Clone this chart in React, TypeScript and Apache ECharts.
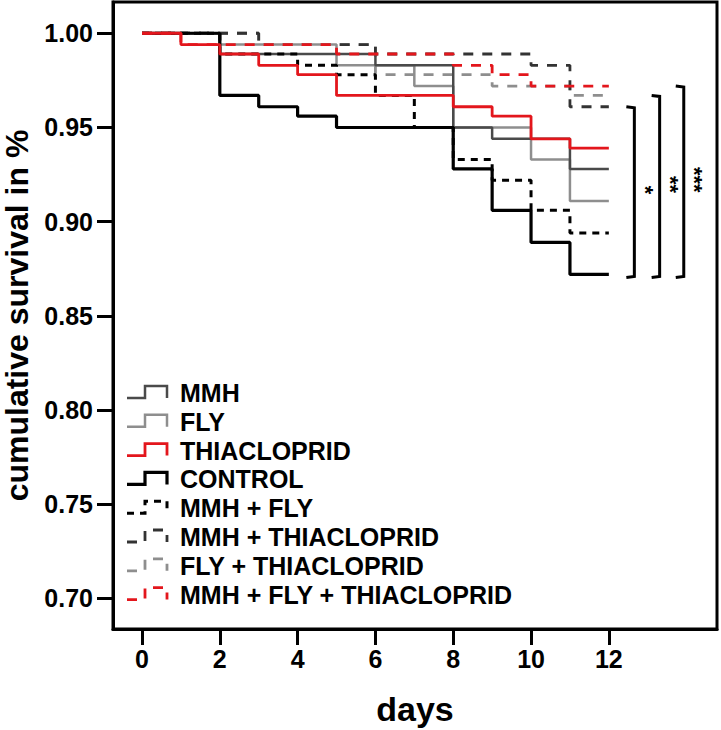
import React, { useEffect, useRef } from "react";
import * as echarts from "echarts";

// ---- axis ticks ----
const xTicks = [0, 2, 4, 6, 8, 10, 12];
const yTicks = [0.7, 0.75, 0.8, 0.85, 0.9, 0.95, 1.0];

// ---- Kaplan-Meier step data (day of event, cumulative survival after it) ----
const mmhDays = [0, 2, 6, 8, 9, 11, 12];
const mmhSurv = [1, 0.989, 0.983, 0.95, 0.944, 0.928, 0.928];

const flyDays = [0, 2, 5, 7, 8, 10, 11, 12];
const flySurv = [1, 0.994, 0.983, 0.972, 0.95, 0.933, 0.911, 0.911];

const thiaDays = [0, 1, 2, 3, 4, 5, 8, 9, 10, 11, 12];
const thiaSurv = [1, 0.994, 0.989, 0.983, 0.978, 0.967, 0.961, 0.956, 0.944, 0.939, 0.939];

const controlDays = [0, 2, 3, 4, 5, 8, 9, 10, 11, 12];
const controlSurv = [1, 0.967, 0.961, 0.956, 0.95, 0.928, 0.906, 0.889, 0.872, 0.872];

const mmhFlyDays = [0, 2, 4, 5, 6, 7, 8, 9, 10, 11, 12];
const mmhFlySurv = [1, 0.989, 0.983, 0.978, 0.967, 0.95, 0.933, 0.922, 0.906, 0.894, 0.894];

const mmhThiaDays = [0, 3, 6, 10, 11, 12];
const mmhThiaSurv = [1, 0.994, 0.989, 0.983, 0.961, 0.961];

const flyThiaDays = [0, 3, 6, 9, 11, 12];
const flyThiaSurv = [1, 0.994, 0.978, 0.972, 0.967, 0.967];

const allDays = [0, 1, 5, 8, 9, 10, 12];
const allSurv = [1, 0.994, 0.989, 0.983, 0.978, 0.972, 0.972];

const groupNames = [
  "MMH",
  "FLY",
  "THIACLOPRID",
  "CONTROL",
  "MMH + FLY",
  "MMH + THIACLOPRID",
  "FLY + THIACLOPRID",
  "MMH + FLY + THIACLOPRID",
];

// significance brackets: control vs. these groups
const sigLabels = ["*", "**", "***"];
const sigGroupIndex = [5, 6, 7];
const bracketX = [12.45, 13.1, 13.72];

const FONT = "'Liberation Sans', Arial, Helvetica, sans-serif";

export default function App() {
  const ref = useRef<HTMLDivElement>(null);

  useEffect(() => {
    const chart = echarts.init(ref.current!, null, { renderer: "svg" });

    const groups = [
      { days: mmhDays, surv: mmhSurv, color: "#4a4a4a", width: 2.5, dash: "solid" as any },
      { days: flyDays, surv: flySurv, color: "#8e8e8e", width: 2.5, dash: "solid" as any },
      { days: thiaDays, surv: thiaSurv, color: "#e3161c", width: 2.8, dash: "solid" as any },
      { days: controlDays, surv: controlSurv, color: "#000000", width: 3.2, dash: "solid" as any },
      { days: mmhFlyDays, surv: mmhFlySurv, color: "#000000", width: 3, dash: [7, 6] },
      { days: mmhThiaDays, surv: mmhThiaSurv, color: "#333333", width: 2.8, dash: [10, 9] },
      { days: flyThiaDays, surv: flyThiaSurv, color: "#8e8e8e", width: 2.8, dash: [10, 9] },
      { days: allDays, surv: allSurv, color: "#e3161c", width: 2.8, dash: [10, 9] },
    ];

    const drawOrder = [6, 5, 1, 0, 4, 3, 2, 7];
    const series = drawOrder.map((i) => {
      const g = groups[i];
      return {
        type: "line",
        name: groupNames[i],
        step: "end",
        symbol: "none",
        showSymbol: false,
        data: g.days.map((d, k) => [d, g.surv[k]]),
        lineStyle: { color: g.color, width: g.width, type: g.dash, cap: "butt" },
        z: 2,
      };
    });

    const axisText = { fontSize: 25, fontWeight: "bold", color: "#000", fontFamily: FONT };

    chart.setOption({
      animation: false,
      grid: {
        left: 113,
        top: 2,
        right: 4,
        bottom: 101,
        containLabel: false,
        outerBoundsMode: "none",
        show: true,
        borderColor: "#000",
        borderWidth: 3,
        backgroundColor: "transparent",
      },
      xAxis: {
        type: "value",
        min: -0.7455,
        max: 14.78,
        name: "days",
        nameLocation: "middle",
        nameGap: 63,
        nameTextStyle: { fontSize: 34, fontWeight: "bold", color: "#000", fontFamily: FONT },
        axisLine: { show: true, onZero: false, lineStyle: { color: "#000", width: 3 } },
        axisTick: { show: true, customValues: xTicks, length: 16, lineStyle: { color: "#000", width: 3 } },
        axisLabel: { ...axisText, customValues: xTicks, margin: 17, formatter: (v: number) => String(v) },
        splitLine: { show: false },
      },
      yAxis: {
        type: "value",
        min: 0.6838,
        max: 1.0166,
        name: "cumulative survival in %",
        nameLocation: "middle",
        nameGap: 74,
        nameTextStyle: { fontSize: 32, fontWeight: "bold", color: "#000", fontFamily: FONT },
        axisLine: { show: true, onZero: false, lineStyle: { color: "#000", width: 3 } },
        axisTick: { show: true, customValues: yTicks, length: 16, lineStyle: { color: "#000", width: 3 } },
        axisLabel: { ...axisText, customValues: yTicks, margin: 20, formatter: (v: number) => v.toFixed(2) },
        splitLine: { show: false },
      },
      series,
    });

    // ---- legend (custom step icons) ----
    const legend: any[] = [];
    groupNames.forEach((name, i) => {
      const yc = 393 + i * 28.8;
      const g = groups[i];
      legend.push({
        type: "polyline",
        shape: {
          points: [
            [127, yc + 5],
            [145, yc + 5],
            [145, yc - 7],
            [167, yc - 7],
            [167, yc + 5],
          ],
        },
        style: {
          stroke: g.color,
          lineWidth: g.width,
          fill: "none",
          lineDash: g.dash === "solid" ? null : g.dash,
        },
        z: 10,
      });
      legend.push({
        type: "text",
        x: 180,
        y: yc,
        style: {
          text: name,
          fontSize: 25,
          fontWeight: "bold",
          fontFamily: FONT,
          fill: "#000",
          verticalAlign: "middle",
        },
        z: 10,
      });
    });

    // ---- significance brackets ----
    const brackets: any[] = [];
    const ctrlEnd = controlSurv[controlSurv.length - 1];
    sigLabels.forEach((lab, k) => {
      const gi = sigGroupIndex[k];
      const topVal = groups[gi].surv[groups[gi].surv.length - 1];
      const pTop = chart.convertToPixel({ gridIndex: 0 }, [bracketX[k], topVal]) as number[];
      const pBot = chart.convertToPixel({ gridIndex: 0 }, [bracketX[k], ctrlEnd]) as number[];
      const x0 = pTop[0];
      const x1 = x0 + 8;
      const yTop = pTop[1];
      const yBot = pBot[1] + 3;
      brackets.push({
        type: "polyline",
        shape: { points: [[x0, yTop], [x1, yTop + 1], [x1, yBot - 1], [x0, yBot]] },
        style: { stroke: "#000", lineWidth: 3, fill: "none" },
        z: 10,
      });
      brackets.push({
        type: "text",
        x: x1 + 11,
        y: (yTop + yBot) / 2 - 2,
        rotation: -Math.PI / 2,
        style: {
          text: lab,
          fontSize: 22,
          fontWeight: "bold",
          fontFamily: FONT,
          fill: "#000",
          align: "center",
          verticalAlign: "middle",
        },
        z: 10,
      });
    });

    chart.setOption({ graphic: [...legend, ...brackets] });

    return () => chart.dispose();
  }, []);

  return (
    <div
      ref={ref}
      style={{ position: "fixed", left: 0, top: 0, width: 721, height: 730, background: "#fff" }}
    />
  );
}
